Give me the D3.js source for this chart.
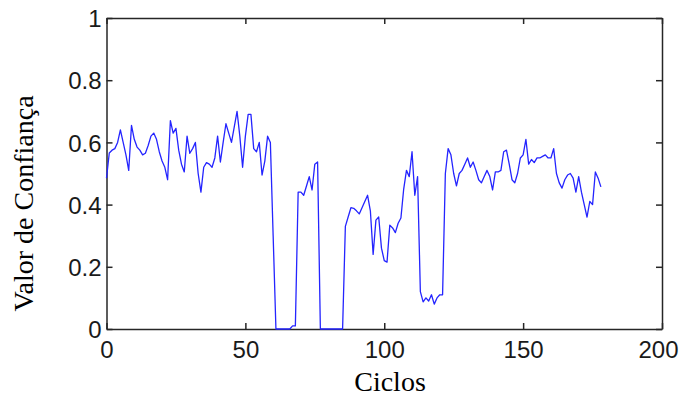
<!DOCTYPE html>
<html>
<head>
<meta charset="utf-8">
<script src="https://cdn.jsdelivr.net/npm/d3@7"></script>
<style>
  body { margin: 0; background: #fff; }
  svg { display: block; }
</style>
</head>
<body>
<div id="chart"></div>
<script>
// Valor de confiança por ciclo
const valores = [
  0.485, 0.566, 0.575, 0.58, 0.60, 0.64, 0.60, 0.56, 0.51, 0.655,
  0.61, 0.585, 0.575, 0.56, 0.565, 0.59, 0.62, 0.63, 0.61, 0.57,
  0.54, 0.52, 0.48, 0.67, 0.63, 0.645, 0.575, 0.53, 0.505, 0.62,
  0.565, 0.58, 0.60, 0.50, 0.44, 0.52, 0.535, 0.53, 0.52, 0.55,
  0.62, 0.537, 0.60, 0.66, 0.63, 0.60, 0.65, 0.70, 0.62, 0.52,
  0.62, 0.69, 0.69, 0.58, 0.57, 0.60, 0.495, 0.54, 0.62, 0.60,
  0.30, 0, 0, 0, 0, 0, 0, 0.01, 0.01, 0.44,
  0.44, 0.43, 0.46, 0.49, 0.447, 0.53, 0.537, 0, 0, 0,
  0, 0, 0, 0, 0, 0, 0.33, 0.36, 0.39, 0.388,
  0.38, 0.37, 0.39, 0.41, 0.43, 0.38, 0.24, 0.35, 0.36, 0.26,
  0.22, 0.215, 0.334, 0.325, 0.31, 0.34, 0.357, 0.45, 0.51, 0.49,
  0.57, 0.43, 0.49, 0.12, 0.087, 0.10, 0.09, 0.11, 0.08, 0.10,
  0.11, 0.11, 0.50, 0.58, 0.56, 0.50, 0.46, 0.50, 0.51, 0.53,
  0.55, 0.52, 0.537, 0.51, 0.48, 0.47, 0.49, 0.51, 0.49, 0.447,
  0.505, 0.505, 0.51, 0.57, 0.575, 0.53, 0.48, 0.47, 0.50, 0.55,
  0.56, 0.61, 0.53, 0.545, 0.535, 0.55, 0.55, 0.555, 0.56, 0.55,
  0.55, 0.58, 0.50, 0.47, 0.453, 0.48, 0.495, 0.50, 0.485, 0.44,
  0.49, 0.44, 0.40, 0.36, 0.41, 0.40, 0.505, 0.485, 0.457
];
const ciclos = valores.map((v, i) => i);

const xTicks = [0, 50, 100, 150, 200];
const yTicks = [0, 0.2, 0.4, 0.6, 0.8, 1];

const W = 679, H = 398;
const plot = { left: 106.5, right: 662, top: 18, bottom: 329 };

const svg = d3.select("#chart")
    .append("svg")
    .attr("width", W)
    .attr("height", H);

const x = d3.scaleLinear().domain([0, 200]).range([plot.left, plot.right]);
const y = d3.scaleLinear().domain([0, 1]).range([plot.bottom, plot.top]);

const tickFont = "'Liberation Sans', Arial, sans-serif";
const axisColor = "#262626";

// eixo inferior (ticks para dentro)
const gx = svg.append("g")
    .attr("transform", `translate(0,${plot.bottom})`)
    .call(d3.axisBottom(x).tickValues(xTicks).tickSizeInner(-6).tickSizeOuter(0)
        .tickPadding(12).tickFormat(d3.format("d")));

// eixo esquerdo
const gy = svg.append("g")
    .attr("transform", `translate(${plot.left},0)`)
    .call(d3.axisLeft(y).tickValues(yTicks).tickSizeInner(-6).tickSizeOuter(0)
        .tickPadding(5).tickFormat(d => d === 0 || d === 1 ? String(d) : d.toFixed(1)));

// eixos superior e direito (só ticks)
const gt = svg.append("g")
    .attr("transform", `translate(0,${plot.top})`)
    .call(d3.axisTop(x).tickValues(xTicks).tickSizeInner(-6).tickSizeOuter(0).tickFormat(""));
const gr = svg.append("g")
    .attr("transform", `translate(${plot.right},0)`)
    .call(d3.axisRight(y).tickValues(yTicks).tickSizeInner(-6).tickSizeOuter(0).tickFormat(""));

[gx, gy, gt, gr].forEach(g => {
    g.select(".domain").attr("stroke", axisColor).attr("stroke-width", 1.5);
    g.selectAll(".tick line").attr("stroke", axisColor).attr("stroke-width", 1.5);
    g.selectAll(".tick text")
        .attr("fill", "#1a1a1a")
        .style("font-family", tickFont)
        .style("font-size", "24px");
});
gy.selectAll(".tick text").attr("dy", "0.36em");
gx.selectAll(".tick text").attr("dy", "0.72em");
// último rótulo encostado à borda, como no original
gx.selectAll(".tick text").filter(d => d === 200)
    .attr("text-anchor", "end")
    .attr("x", W - plot.right - 1);

// linha
const line = d3.line()
    .x((d, i) => x(ciclos[i]))
    .y(d => y(d));

svg.append("path")
    .datum(valores)
    .attr("d", line)
    .attr("fill", "none")
    .attr("stroke", "#2424ff")
    .attr("stroke-width", 1.3)
    .attr("stroke-linejoin", "round");

// rótulos
const serif = "'Liberation Serif', 'Times New Roman', serif";
svg.append("text")
    .attr("x", 390)
    .attr("y", 391)
    .attr("text-anchor", "middle")
    .style("font-family", serif)
    .style("font-size", "28px")
    .attr("fill", "#000")
    .text("Ciclos");

svg.append("text")
    .attr("transform", `translate(33,${(plot.top + plot.bottom) / 2 + 30}) rotate(-90)`)
    .attr("text-anchor", "middle")
    .style("font-family", serif)
    .style("font-size", "28px")
    .attr("fill", "#000")
    .text("Valor de Confiança");
</script>
</body>
</html>
